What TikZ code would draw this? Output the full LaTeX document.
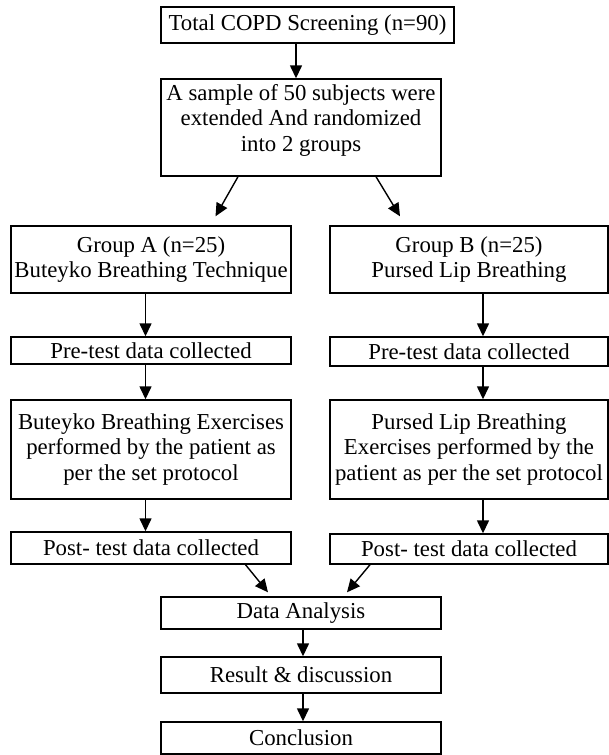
\documentclass[tikz,border=0pt]{standalone}
\usepackage{fontspec}
\setmainfont{Liberation Serif}
\usetikzlibrary{arrows.meta}

\begin{document}
\begin{tikzpicture}[x=1pt,y=-1pt,
    box/.style = {draw, line width=1.4pt, align=center, inner sep=0pt,
      font=\fontsize{22.8}{25.5}\selectfont},
    wide/.style = {box, minimum width=280pt},
    flow/.style = {line width=1.4pt, -{Triangle[length=13pt,width=12pt]}}]
  \useasboundingbox (0,0) rectangle (609,755);
  % top of the chart
  \node[box, minimum width=293pt, minimum height=36pt] (total) at (307.5,25)
    {Total COPD Screening (n=90)};
  \node[wide, minimum height=97pt, text depth=20pt] (sample) at (301,127.5)
    {A sample of 50 subjects were\\extended And randomized\\into 2 groups};
  % group A column
  \node[wide, minimum height=67pt] (grpA) at (151,259.5)
    {Group A (n=25)\\Buteyko Breathing Technique};
  \node[wide, minimum height=27pt] (preA) at (151,350.5) {Pre-test data collected};
  \node[wide, minimum height=99pt] (exA) at (151,449.5)
    {Buteyko Breathing Exercises\\performed by the patient as\\per the set protocol};
  \node[wide, minimum height=32pt] (postA) at (151,548) {Post- test data collected};
  % group B column
  \node[wide, minimum width=278pt, minimum height=67pt] (grpB) at (469,259.5)
    {Group B (n=25)\\Pursed Lip Breathing};
  \node[wide, minimum width=278pt, minimum height=29pt] (preB) at (469,351.5)
    {Pre-test data collected};
  \node[wide, minimum width=278pt, minimum height=99pt] (exB) at (469,449.5)
    {Pursed Lip Breathing\\Exercises performed by the\\patient as per the set protocol};
  \node[wide, minimum width=278pt, minimum height=30pt] (postB) at (469,549)
    {Post- test data collected};
  % bottom of the chart
  \node[wide, minimum height=32pt] (data) at (301,613) {Data Analysis};
  \node[wide, minimum height=36pt] (result) at (301,675) {Result \& discussion};
  \node[wide, minimum height=32pt] (concl) at (301,738) {Conclusion};

  \draw[flow] ([xshift=-11.5pt]total.south) -- ([xshift=-5pt]sample.north);
  \draw[flow] ([xshift=-63pt]sample.south) -- ([xshift=64.5pt,yshift=9pt]grpA.north);
  \draw[flow] ([xshift=75pt]sample.south) -- ([xshift=-69pt,yshift=9pt]grpB.north);
  \foreach \a/\b in {grpA/preA, preA/exA, exA/postA}
    \draw[flow] ([xshift=-5.5pt]\a.south) -- ([xshift=-5.5pt]\b.north);
  \foreach \a/\b in {grpB/preB, preB/exB, exB/postB}
    \draw[flow] ([xshift=14pt]\a.south) -- ([xshift=14pt]\b.north);
  \draw[flow] ([xshift=94.5pt]postA.south) -- ([xshift=-33pt,yshift=4pt]data.north);
  \draw[flow] ([xshift=-99pt]postB.south) -- ([xshift=46pt,yshift=4pt]data.north);
  \draw[flow] ([xshift=2pt]data.south) -- ([xshift=2pt]result.north);
  \draw[flow] ([xshift=2pt]result.south) -- ([xshift=2pt]concl.north);
\end{tikzpicture}
\end{document}
